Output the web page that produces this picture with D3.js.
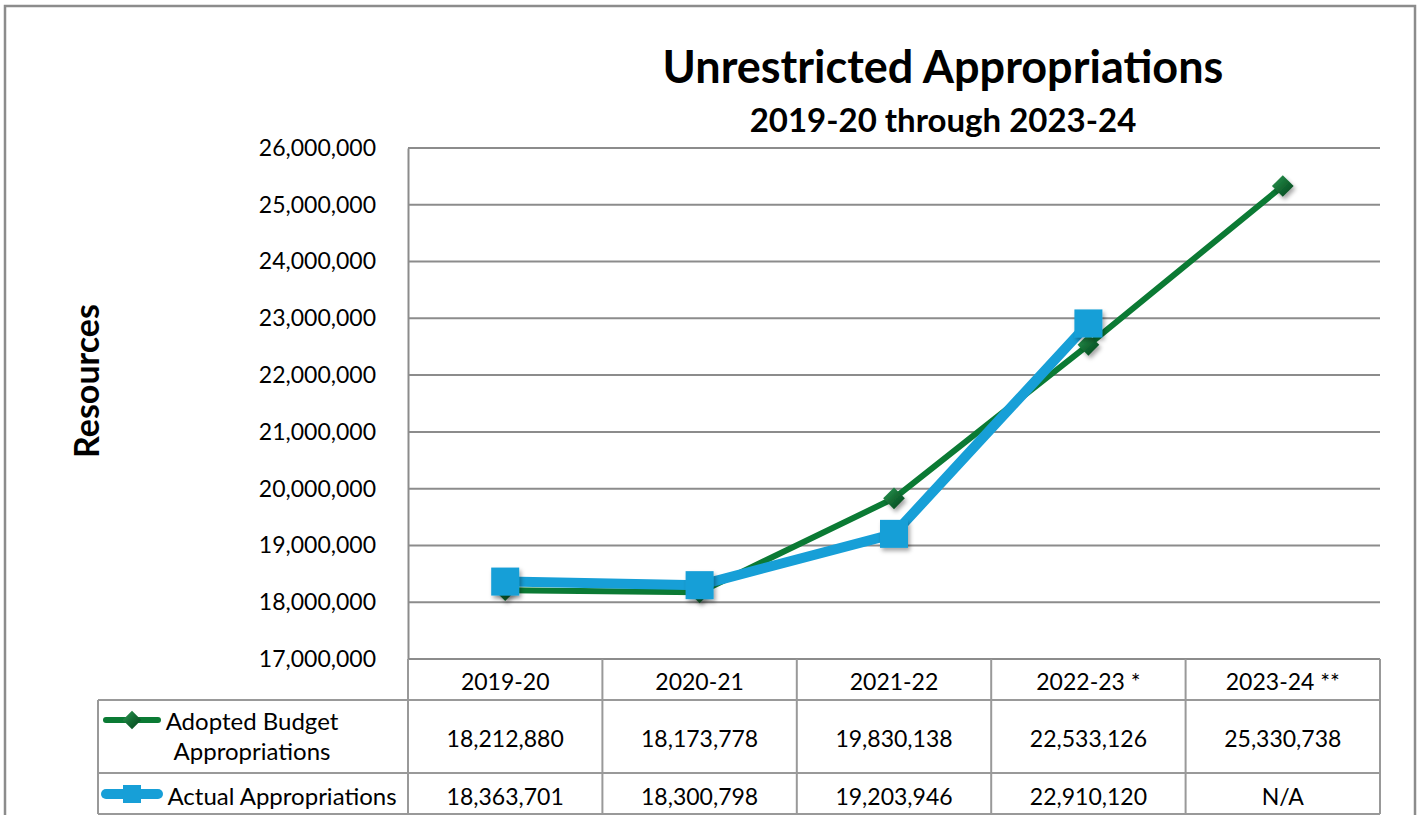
<!DOCTYPE html>
<html>
<head>
<meta charset="utf-8">
<script src="https://cdn.jsdelivr.net/npm/d3@7"></script>
<style>
  body { margin: 0; background: #fff; }
  svg { display: block; font-family: Lato, "Open Sans", sans-serif; }
</style>
</head>
<body>
<svg id="chart" width="1419" height="815"></svg>
<script>
const years = ['2019-20', '2020-21', '2021-22', '2022-23 *', '2023-24 **'];
const adopted = [18212880, 18173778, 19830138, 22533126, 25330738];
const actual = [18363701, 18300798, 19203946, 22910120, null];
const yTicks = [17000000, 18000000, 19000000, 20000000, 21000000, 22000000, 23000000, 24000000, 25000000, 26000000];
const seriesNames = [['Adopted Budget', 'Appropriations'], ['Actual Appropriations']];

const green = '#0b7a34',
    blue = '#179fd7',
    gridColor = '#8c8c8c',
    fmt = d3.format(',');

const svg = d3.select('#chart');

const plot = { left: 408, right: 1380, top: 148, bottom: 659 },
    table = { left: 98, row1: 700, row2: 773, bottom: 814 };

const x = d3.scaleBand().domain(years).range([plot.left, plot.right]).padding(0);
const y = d3.scaleLinear().domain([17000000, 26000000]).range([plot.bottom, plot.top]);
const cx = d => x(d) + x.bandwidth() / 2;

// defs: marker shading + soft shadow
const defs = svg.append('defs');
const dg = defs.append('linearGradient').attr('id', 'diamondGrad')
    .attr('x1', 0).attr('y1', 0).attr('x2', 1).attr('y2', 1);
dg.append('stop').attr('offset', '0%').attr('stop-color', '#2f9a55');
dg.append('stop').attr('offset', '50%').attr('stop-color', '#136b33');
dg.append('stop').attr('offset', '100%').attr('stop-color', '#06401d');
const sh = defs.append('filter').attr('id', 'shadow')
    .attr('x', '-50%').attr('y', '-50%').attr('width', '200%').attr('height', '200%');
sh.append('feDropShadow').attr('dx', 2).attr('dy', 3).attr('stdDeviation', 2)
    .attr('flood-color', '#000').attr('flood-opacity', 0.35);

// outer frame
svg.append('rect')
    .attr('x', 5).attr('y', 6).attr('width', 1410).attr('height', 830)
    .attr('fill', 'none').attr('stroke', gridColor).attr('stroke-width', 2.5);

// titles
svg.append('text')
    .attr('x', 943).attr('y', 83)
    .attr('text-anchor', 'middle')
    .attr('font-size', 45).attr('font-weight', 'bold')
    .text('Unrestricted Appropriations');

svg.append('text')
    .attr('x', 943).attr('y', 132)
    .attr('text-anchor', 'middle')
    .attr('font-size', 33).attr('font-weight', 'bold')
    .text('2019-20 through 2023-24');

svg.append('text')
    .attr('transform', 'translate(99,381) rotate(-90)')
    .attr('text-anchor', 'middle')
    .attr('font-size', 34).attr('font-weight', 'bold')
    .text('Resources');

// gridlines
svg.append('g')
    .selectAll('line')
    .data(yTicks)
    .join('line')
    .attr('x1', plot.left).attr('x2', plot.right)
    .attr('y1', d => y(d)).attr('y2', d => y(d))
    .attr('stroke', gridColor).attr('stroke-width', 2);

// y axis
const yAxis = svg.append('g')
    .attr('transform', `translate(${plot.left},0)`)
    .call(d3.axisLeft(y).tickValues(yTicks).tickFormat(fmt).tickSize(0).tickPadding(32));
yAxis.select('.domain').attr('stroke', gridColor).attr('stroke-width', 2);
yAxis.selectAll('text')
    .attr('font-family', 'Lato, "Open Sans", sans-serif')
    .attr('font-size', 23).attr('fill', '#000');

// data table grid
const tg = svg.append('g').attr('stroke', '#999').attr('stroke-width', 2);
[table.row1, table.row2, table.bottom].forEach(r => {
    tg.append('line').attr('x1', table.left).attr('x2', plot.right).attr('y1', r).attr('y2', r);
});
tg.append('line').attr('x1', table.left).attr('x2', table.left).attr('y1', table.row1).attr('y2', table.bottom);
tg.selectAll('line.col')
    .data(years.concat(['end']))
    .join('line')
    .attr('class', 'col')
    .attr('x1', (d, i) => i < years.length ? x(d) : plot.right)
    .attr('x2', (d, i) => i < years.length ? x(d) : plot.right)
    .attr('y1', plot.bottom).attr('y2', table.bottom);

const cellText = svg.append('g')
    .attr('text-anchor', 'middle')
    .attr('font-size', 23)
    .attr('dominant-baseline', 'central');

cellText.selectAll('text.hdr')
    .data(years).join('text')
    .attr('class', 'hdr')
    .attr('x', cx).attr('y', (plot.bottom + table.row1) / 2 + 1)
    .text(d => d);

cellText.selectAll('text.r1')
    .data(adopted).join('text')
    .attr('class', 'r1')
    .attr('x', (d, i) => cx(years[i])).attr('y', (table.row1 + table.row2) / 2 + 1)
    .text(d => fmt(d));

cellText.selectAll('text.r2')
    .data(actual).join('text')
    .attr('class', 'r2')
    .attr('x', (d, i) => cx(years[i])).attr('y', (table.row2 + table.bottom) / 2 + 2)
    .text(d => d == null ? 'N/A' : fmt(d));

// legend keys in table
const diamond = d3.symbol().type(d3.symbolDiamond2);
const leg1y = 720, leg2y = 794;
svg.append('line').attr('x1', 106).attr('x2', 158).attr('y1', leg1y).attr('y2', leg1y)
    .attr('stroke', green).attr('stroke-width', 6).attr('stroke-linecap', 'round');
svg.append('path').attr('d', diamond.size(220)())
    .attr('transform', `translate(132,${leg1y})`)
    .attr('fill', 'url(#diamondGrad)');
svg.append('line').attr('x1', 106).attr('x2', 158).attr('y1', leg2y).attr('y2', leg2y)
    .attr('stroke', blue).attr('stroke-width', 10).attr('stroke-linecap', 'round');
svg.append('rect').attr('x', 123).attr('y', leg2y - 9).attr('width', 18).attr('height', 18)
    .attr('fill', blue);

const legText = svg.append('g')
    .attr('text-anchor', 'middle')
    .attr('font-size', 24)
    .attr('dominant-baseline', 'central');
legText.append('text').attr('x', 252).attr('y', 720).text(seriesNames[0][0]);
legText.append('text').attr('x', 252).attr('y', 750).text(seriesNames[0][1]);
legText.append('text').attr('x', 282).attr('y', 795).text(seriesNames[1][0]);

// series lines
const line = d3.line()
    .defined(d => d.v != null)
    .x(d => cx(d.k))
    .y(d => y(d.v));

const adoptedPts = years.map((k, i) => ({ k, v: adopted[i] }));
const actualPts = years.map((k, i) => ({ k, v: actual[i] })).filter(d => d.v != null);

svg.append('path')
    .datum(adoptedPts)
    .attr('d', line)
    .attr('fill', 'none').attr('stroke', green).attr('stroke-width', 6)
    .attr('stroke-linejoin', 'round');

svg.append('g')
    .selectAll('path')
    .data(adoptedPts)
    .join('path')
    .attr('d', diamond.size(300)())
    .attr('transform', d => `translate(${cx(d.k)},${y(d.v)})`)
    .attr('fill', 'url(#diamondGrad)')
    .attr('filter', 'url(#shadow)');

svg.append('path')
    .datum(actualPts)
    .attr('d', line)
    .attr('fill', 'none').attr('stroke', blue).attr('stroke-width', 10)
    .attr('stroke-linejoin', 'round');

svg.append('g')
    .selectAll('rect')
    .data(actualPts)
    .join('rect')
    .attr('x', d => cx(d.k) - 14).attr('y', d => y(d.v) - 14)
    .attr('width', 28).attr('height', 28)
    .attr('fill', blue)
    .attr('filter', 'url(#shadow)');
</script>
</body>
</html>
